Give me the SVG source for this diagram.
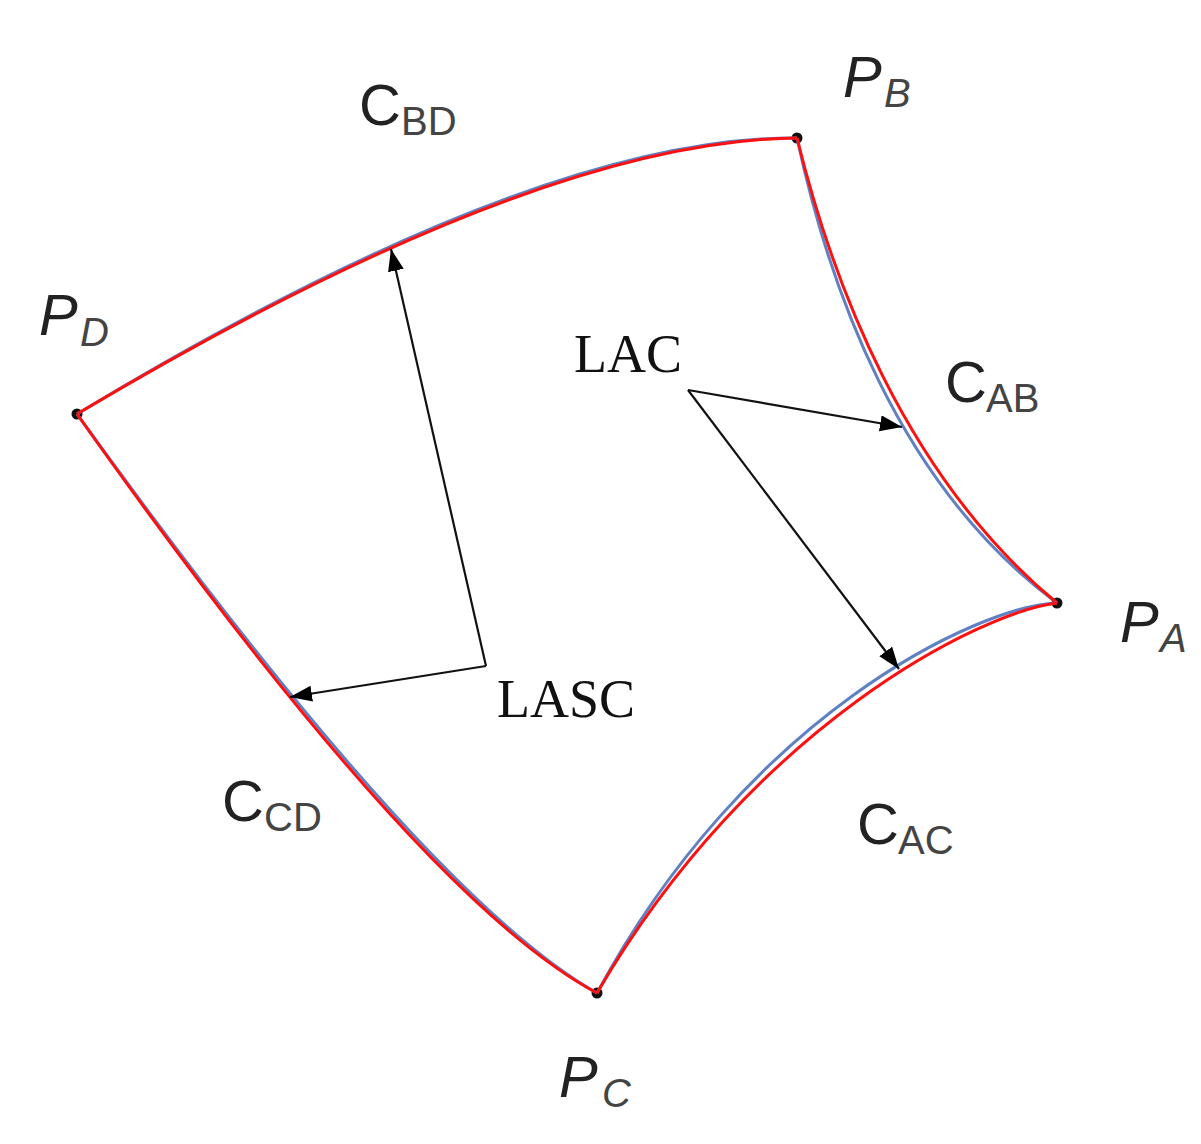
<svg xmlns="http://www.w3.org/2000/svg" width="1201" height="1144" viewBox="0 0 1201 1144">
<defs>
<marker id="ah" markerUnits="userSpaceOnUse" markerWidth="24" markerHeight="18" refX="22" refY="8" orient="auto">
<path d="M0,0 L22,8 L0,16 Z" fill="#000"/>
</marker>
<style>
.blue{fill:none;stroke:#5f80c2;stroke-width:3}
.red{fill:none;stroke:#ff1010;stroke-width:3}
.dot{fill:#111}
.arr{fill:none;stroke:#111;stroke-width:2.2;marker-end:url(#ah)}
.cm{font-family:"Liberation Sans",Arial,sans-serif;font-size:58px;fill:#222}
.cs{font-family:"Liberation Sans",Arial,sans-serif;font-size:40px;fill:#444}
.pm{font-family:"Liberation Sans",Arial,sans-serif;font-size:58px;font-style:italic;fill:#222}
.ps{font-family:"Liberation Sans",Arial,sans-serif;font-size:40px;font-style:italic;fill:#444}
.lab{font-family:"Liberation Serif","Times New Roman",serif;font-size:54px;fill:#111}
</style>
</defs>
<rect width="1201" height="1144" fill="#fff"/>
<g id="PD"><circle class="dot" cx="77" cy="414" r="5.5"/><text class="pm" x="39" y="335">P</text><text class="ps" x="80" y="346">D</text></g>
<g id="PB"><circle class="dot" cx="797" cy="138" r="5.5"/><text class="pm" x="843" y="97">P</text><text class="ps" x="884" y="107">B</text></g>
<g id="PA"><circle class="dot" cx="1057" cy="603" r="5.5"/><text class="pm" x="1120" y="642">P</text><text class="ps" x="1160" y="652">A</text></g>
<g id="PC"><circle class="dot" cx="597" cy="993" r="5.5"/><text class="pm" x="559" y="1097">P</text><text class="ps" x="602" y="1107">C</text></g>
<g id="curves">
<path class="blue" d="M77,414 Q537,136 797,138"/>
<path class="red" d="M77,414 Q537,140 797,138"/>
<path class="blue" d="M797,138 C828,282 896,484 1057,603"/>
<path class="red" d="M797,138 C832,280 904,476 1057,603"/>
<path class="blue" d="M1057,603 C978,606 746,716 597,993"/>
<path class="red" d="M1057,603 C982,612 754,724 597,993"/>
<path class="blue" d="M77,414 Q424,895 597,993"/>
<path class="red" d="M77,414 Q420,899 597,993"/>
</g>
<g id="CBD"><text class="cm" x="359" y="125">C</text><text class="cs" x="401" y="135">BD</text></g>
<g id="CAB"><text class="cm" x="945" y="402">C</text><text class="cs" x="986" y="412">AB</text></g>
<g id="CCD"><text class="cm" x="222" y="821">C</text><text class="cs" x="264" y="831">CD</text></g>
<g id="CAC"><text class="cm" x="857" y="844">C</text><text class="cs" x="898" y="854">AC</text></g>
<g id="LASC"><text class="lab" x="497" y="717">LASC</text></g>
<g id="LAC"><text class="lab" x="574" y="372">LAC</text></g>
<g id="connectors">
<path class="arr" d="M486,666 L391,249"/>
<path class="arr" d="M486,666 L290,697"/>
<path class="arr" d="M688,390 L902,427"/>
<path class="arr" d="M688,390 L899,669"/>
</g>
</svg>
